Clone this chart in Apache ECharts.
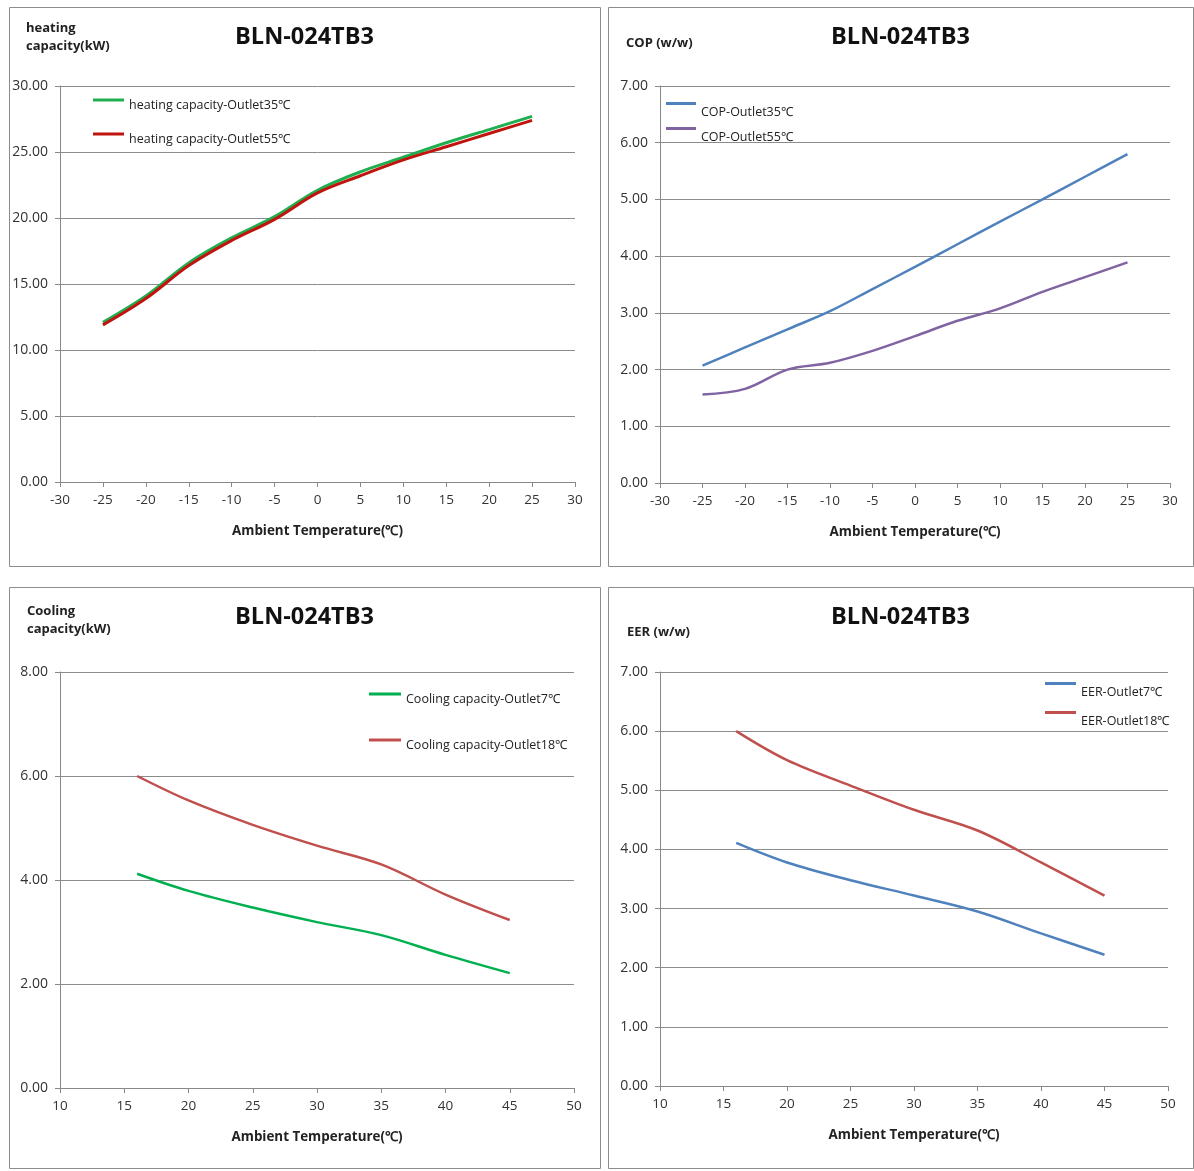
<!DOCTYPE html>
<html>
<head>
<meta charset="utf-8">
<script src="https://cdn.jsdelivr.net/npm/echarts@6/dist/echarts.min.js"></script>
<style>
html,body{margin:0;padding:0;background:#fff;}
#c{width:1194px;height:1171px;}
</style>
</head>
<body>
<div id="c"></div>
<script>
// ---- Data ----
const modelName = 'BLN-024TB3';
const heatTemps = [-25, -20, -15, -10, -5, 0, 5, 10, 15, 20, 25];
const heatCap35 = [12.1, 14.1, 16.6, 18.5, 20.1, 22.1, 23.5, 24.6, 25.7, 26.7, 27.7];
const heatCap55 = [11.9, 13.9, 16.4, 18.3, 19.9, 21.9, 23.2, 24.4, 25.4, 26.4, 27.4];
const cop35 = [2.07, 2.39, 2.71, 3.03, 3.42, 3.81, 4.21, 4.61, 5.0, 5.4, 5.8];
const cop55 = [1.56, 1.66, 2.0, 2.12, 2.33, 2.59, 2.86, 3.08, 3.37, 3.63, 3.89];
const coolTemps = [16, 20, 25, 30, 35, 40, 45];
const coolCap7 = [4.12, 3.79, 3.47, 3.19, 2.94, 2.56, 2.21];
const coolCap18 = [6.0, 5.53, 5.06, 4.66, 4.3, 3.72, 3.23];
const eer7 = [4.11, 3.78, 3.48, 3.22, 2.95, 2.58, 2.22];
const eer18 = [6.0, 5.51, 5.08, 4.67, 4.32, 3.78, 3.22];

const FONT = '"Open Sans"';
const pairs = (xs, ys) => xs.map((x, i) => [x, ys[i]]);

const panels = [
  {box:[9,7,591,559], grid:{left:60,top:86,width:515,height:396},
   x:[-30,30,5], y:[0,30,5], yName:'heating\ncapacity(kW)', yNamePos:[26,19],
   legend:{left:93,top:97,gap:18,w:31,h:13},
   series:[{name:'heating capacity-Outlet35℃', d:pairs(heatTemps,heatCap35), c:'#1fae50', w:3},
           {name:'heating capacity-Outlet55℃', d:pairs(heatTemps,heatCap55), c:'#c0140f', w:3}]},
  {box:[608,7,585,559], grid:{left:660,top:86,width:510,height:397},
   x:[-30,30,5], y:[0,7,1], yName:'COP (w/w)', yNamePos:[626,34],
   legend:{left:666,top:102,gap:4,w:30,h:21},
   series:[{name:'COP-Outlet35℃', d:pairs(heatTemps,cop35), c:'#4f81bd', w:2.5},
           {name:'COP-Outlet55℃', d:pairs(heatTemps,cop55), c:'#8064a2', w:2.5}]},
  {box:[9,587,591,581], grid:{left:60,top:672,width:514,height:416},
   x:[10,50,5], y:[0,8,2], yName:'Cooling\ncapacity(kW)', yNamePos:[27,602],
   legend:{left:369,top:691,gap:30,w:32,h:13},
   series:[{name:'Cooling capacity-Outlet7℃', d:pairs(coolTemps,coolCap7), c:'#00b050', w:2.5},
           {name:'Cooling capacity-Outlet18℃', d:pairs(coolTemps,coolCap18), c:'#c0504d', w:2.5}]},
  {box:[608,587,585,581], grid:{left:660,top:672,width:508,height:414},
   x:[10,50,5], y:[0,7,1], yName:'EER (w/w)', yNamePos:[627,623],
   legend:{left:1045,top:682,gap:8,w:31,h:21},
   series:[{name:'EER-Outlet7℃', d:pairs(coolTemps,eer7), c:'#4f81bd', w:2.5},
           {name:'EER-Outlet18℃', d:pairs(coolTemps,eer18), c:'#c0504d', w:2.5}]}
];

const option = {
  animation:false,
  backgroundColor:'#fff',
  textStyle:{fontFamily:FONT},
  grid:[], xAxis:[], yAxis:[], series:[], legend:[], graphic:[]
};

panels.forEach((p, i) => {
  option.graphic.push({type:'rect', shape:{x:p.box[0]+0.5,y:p.box[1]+0.5,width:p.box[2],height:p.box[3]},
    style:{fill:'none', stroke:'#8c8c8c', lineWidth:1}, silent:true});
  option.graphic.push({type:'text', left:p.yNamePos[0], top:p.yNamePos[1],
    style:{text:p.yName, font:'bold 13px ' + FONT, fill:'#222', lineHeight:18}});
  option.graphic.push({type:'text', x:p.box[0] + p.box[2]/2, y:p.box[1] + 30,
    style:{text:modelName, font:'bold 23.5px ' + FONT, fill:'#111', textAlign:'center', textVerticalAlign:'middle'}});
  option.grid.push(p.grid);
  option.xAxis.push({type:'value', gridIndex:i, min:p.x[0], max:p.x[1], interval:p.x[2],
    name:'Ambient Temperature(℃)', nameLocation:'middle', nameGap:43,
    nameTextStyle:{fontFamily:FONT, fontSize:13.4, fontWeight:'bold', color:'#222'},
    axisLine:{show:true, onZero:false, lineStyle:{color:'#888'}},
    axisTick:{show:true, length:5, lineStyle:{color:'#888'}},
    axisLabel:{fontFamily:FONT, fontSize:13.5, color:'#333', margin:11},
    splitLine:{show:false}});
  option.yAxis.push({type:'value', gridIndex:i, min:p.y[0], max:p.y[1], interval:p.y[2],
    axisLine:{show:true, onZero:false, lineStyle:{color:'#888'}},
    axisTick:{show:true, length:5, lineStyle:{color:'#888'}},
    axisLabel:{fontFamily:FONT, fontSize:14, color:'#333', margin:12, formatter:v => v.toFixed(2)},
    splitLine:{show:true, lineStyle:{color:'#8c8c8c', width:1}}});
  const names = [];
  p.series.forEach(s => {
    names.push(s.name);
    option.series.push({type:'line', name:s.name, xAxisIndex:i, yAxisIndex:i, data:s.d,
      smooth:0.35, showSymbol:false, symbol:'none', lineStyle:{color:s.c, width:s.w}, itemStyle:{color:s.c}});
  });
  const L = p.legend;
  const iconPath = 'path://M0,0H' + L.w + 'V3H0Z M0,' + (L.h - 0.05) + 'H0.05V' + L.h + 'H0Z';
  option.legend.push({data:names.map(n => ({name:n, icon:iconPath})), orient:'vertical',
    left:L.left, top:L.top, padding:0,
    itemGap:L.gap, itemWidth:L.w, itemHeight:L.h,
    textStyle:{fontFamily:FONT, fontSize:12.5, color:'#222', lineHeight:16}});
});

const chart = echarts.init(document.getElementById('c'), null, {renderer:'canvas'});
chart.setOption(option);
</script>
</body>
</html>
